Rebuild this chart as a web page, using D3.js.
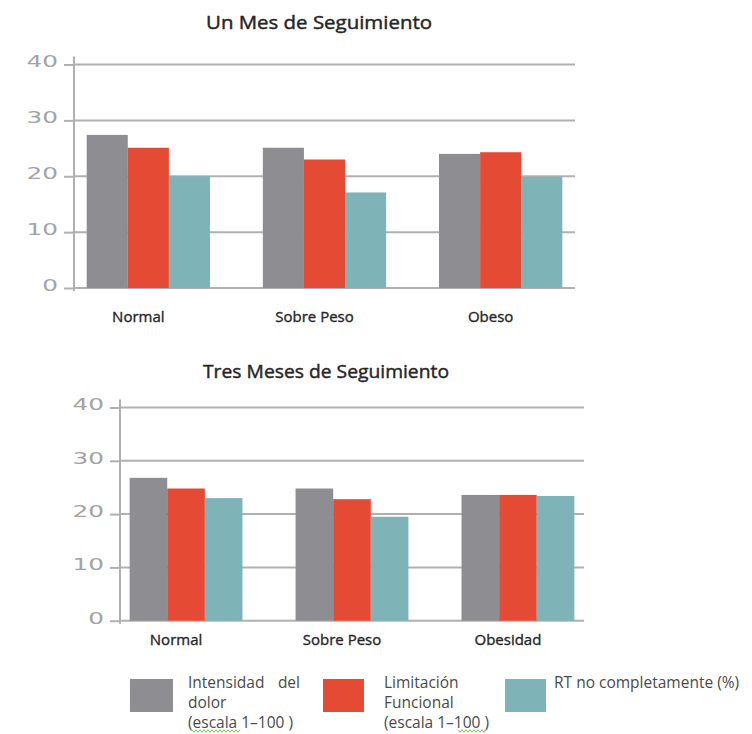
<!DOCTYPE html>
<html>
<head>
<meta charset="utf-8">
<script src="https://cdn.jsdelivr.net/npm/d3@7"></script>
<style>
html, body { margin: 0; padding: 0; background: #ffffff; }
svg { display: block; }
</style>
</head>
<body>
<svg id="chart" width="752" height="734"></svg>
<script>
// ---------- data ----------
const categoriesOneMonth = ["Normal", "Sobre Peso", "Obeso"];
const categoriesThreeMonths = ["Normal", "Sobre Peso", "Obesidad"];
const seriesNames = ["Intensidad del dolor (escala 1–100 )", "Limitación Funcional (escala 1–100 )", "RT no completamente (%)"];
const legendLines = [
  ["Intensidad del", "dolor", "(escala 1–100 )"],
  ["Limitación", "Funcional", "(escala 1–100 )"],
  ["RT no completamente (%)"]
];
const oneMonthIntensidad = [27.4, 25.1, 24.0];
const oneMonthLimitacion = [25.1, 23.0, 24.3];
const oneMonthRT = [20.0, 17.1, 19.9];
const threeMonthsIntensidad = [26.8, 24.8, 23.6];
const threeMonthsLimitacion = [24.8, 22.8, 23.6];
const threeMonthsRT = [23.0, 19.5, 23.4];
const yTicks = [0, 10, 20, 30, 40];
const titles = ["Un Mes de Seguimiento", "Tres Meses de Seguimiento"];

// ---------- style ----------
const colors = ["#8e8d92", "#e54a35", "#7eb3b8"];
const gridColor = "#b0b0b0";
const tickTextColor = "#a3a3a3";
const textFont = "'Open Sans', 'Noto Sans', sans-serif";

const svg = d3.select("#chart");

function drawPanel(o) {
  const g = svg.append("g");
  const x = d3.scaleBand().domain(o.categories).range([o.left, o.right])
    .paddingInner(o.paddingInner).paddingOuter(o.paddingOuter);
  const xs = d3.scaleBand().domain(d3.range(o.series.length)).range([0, x.bandwidth()]);
  const y = d3.scaleLinear().domain([0, 40]).range([o.bottom, o.top]);

  // title
  g.append("text")
    .attr("x", o.titleX).attr("y", o.titleY)
    .attr("text-anchor", "middle")
    .attr("textLength", o.titleLength).attr("lengthAdjust", "spacingAndGlyphs")
    .style("font-family", textFont).style("font-size", "19px")
    .attr("fill", "#262626").attr("stroke", "#262626").attr("stroke-width", 0.45)
    .text(o.title);

  // gridlines
  g.selectAll("line.grid").data(yTicks).join("line")
    .attr("class", "grid")
    .attr("x1", o.left).attr("x2", o.right)
    .attr("y1", d => y(d)).attr("y2", d => y(d))
    .attr("stroke", gridColor).attr("stroke-width", 2);

  // y axis ticks + labels
  const axis = d3.axisLeft(y).tickValues(yTicks).tickSize(10).tickPadding(0).tickFormat(d3.format("d"));
  const ax = g.append("g").attr("transform", `translate(${o.left},0)`).call(axis);
  ax.select(".domain").remove();
  ax.selectAll(".tick line").attr("stroke", gridColor).attr("stroke-width", 2);
  ax.selectAll(".tick text")
    .attr("x", 0).attr("dy", "0.15em")
    .attr("text-anchor", "end")
    .attr("transform", "translate(-16,0) scale(1.55,1)")
    .attr("fill", tickTextColor)
    .style("font-family", "'DejaVu Sans', sans-serif")
    .style("font-size", "16px");

  // vertical axis line
  g.append("line")
    .attr("x1", o.left).attr("x2", o.left)
    .attr("y1", y(40) - 8).attr("y2", y(0) + 3)
    .attr("stroke", gridColor).attr("stroke-width", 2);

  // bars
  const groups = g.selectAll("g.cat").data(o.categories).join("g")
    .attr("class", "cat")
    .attr("transform", d => `translate(${x(d)},0)`);
  groups.selectAll("rect")
    .data((d, i) => o.series.map((s, si) => ({ si, v: s[i] })))
    .join("rect")
    .attr("x", d => xs(d.si))
    .attr("y", d => y(d.v))
    .attr("width", xs.bandwidth())
    .attr("height", d => y(0) - y(d.v))
    .attr("fill", d => colors[d.si]);

  // category labels
  g.selectAll("text.cat").data(o.categories).join("text")
    .attr("class", "cat")
    .attr("x", d => x(d) + x.bandwidth() / 2 - 10)
    .attr("y", o.labelY)
    .attr("text-anchor", "middle")
    .style("font-family", textFont).style("font-size", "15px")
    .attr("fill", "#262626").attr("stroke", "#262626").attr("stroke-width", 0.35)
    .text(d => d);
}

drawPanel({
  categories: categoriesOneMonth,
  series: [oneMonthIntensidad, oneMonthLimitacion, oneMonthRT],
  title: titles[0], titleX: 319, titleY: 29, titleLength: 226,
  left: 74, right: 575, top: 64.5, bottom: 288,
  paddingInner: 0.3, paddingOuter: 0.072,
  labelY: 322
});

drawPanel({
  categories: categoriesThreeMonths,
  series: [threeMonthsIntensidad, threeMonthsLimitacion, threeMonthsRT],
  title: titles[1], titleX: 326, titleY: 378, titleLength: 246,
  left: 120, right: 584, top: 407.5, bottom: 620.7,
  paddingInner: 0.32, paddingOuter: 0.058,
  labelY: 645
});

// ---------- legend ----------
const legendX = [130, 323, 505];
const legendSwatchW = [43, 41, 41];
const legendTextX = [188, 384, 554];
const legendJustifyRight = [300, null, null];
const legend = svg.append("g");
const squiggle = (x0, x1, yy) => {
  const pts = d3.range(x0, x1 + 0.1, 2).map((xx, k) => [xx, yy + (k % 2 ? 1.3 : -1.3)]);
  legend.append("path").attr("d", d3.line()(pts))
    .attr("fill", "none").attr("stroke", "#7cbf5a").attr("stroke-width", 1);
};
const legendText = (xx, yy, anchor, str) => legend.append("text")
  .attr("x", xx).attr("y", yy).attr("text-anchor", anchor)
  .style("font-family", textFont).style("font-size", "15.5px")
  .attr("fill", "#4a4a4a").text(str);
seriesNames.forEach((name, i) => {
  legend.append("rect")
    .attr("x", legendX[i]).attr("y", 679)
    .attr("width", legendSwatchW[i]).attr("height", 33)
    .attr("fill", colors[i]);
  legendLines[i].forEach((line, li) => {
    const yy = 688 + li * 20;
    const words = line.split(" ");
    if (li === 0 && legendJustifyRight[i] !== null && words.length > 1) {
      legendText(legendTextX[i], yy, "start", words.slice(0, -1).join(" "));
      legendText(legendJustifyRight[i], yy, "end", words[words.length - 1]);
    } else {
      legendText(legendTextX[i], yy, "start", line);
    }
  });
});
// spell-check underlines visible in the source image
squiggle(192, 240, 731);
squiggle(458, 486, 731);
</script>
</body>
</html>
